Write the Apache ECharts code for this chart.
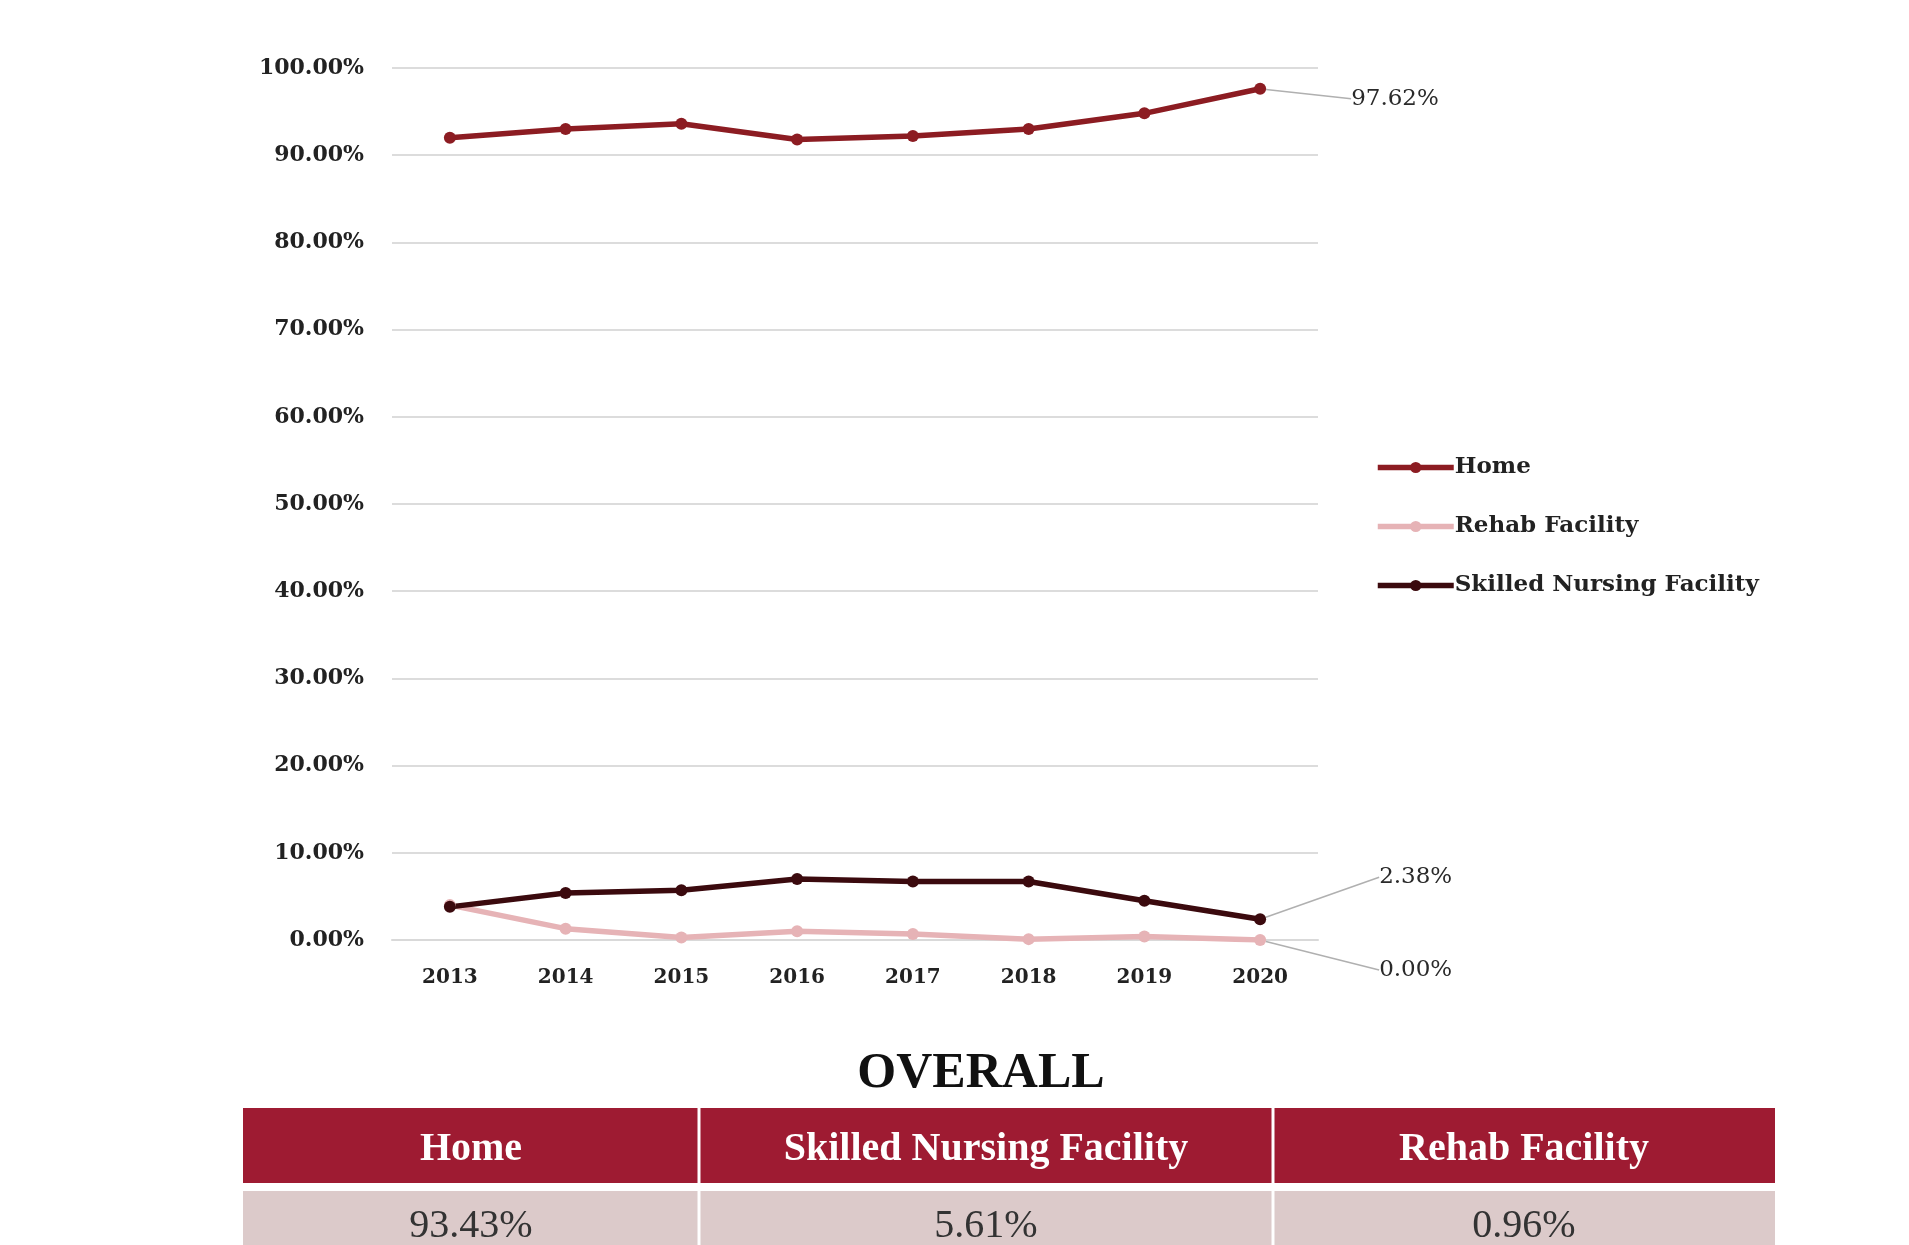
<!DOCTYPE html>
<html>
<head>
<meta charset="utf-8">
<script src="https://cdn.jsdelivr.net/npm/echarts@6/dist/echarts.min.js"></script>
<style>
  html, body { margin: 0; padding: 0; background: #fff; }
  #main { width: 1909px; height: 1245px; }
</style>
</head>
<body>
<div id="main"></div>
<script>
// yearly discharge disposition shares (%)
const years = ['2013', '2014', '2015', '2016', '2017', '2018', '2019', '2020']
const home = [92.0, 93.0, 93.6, 91.8, 92.2, 93.0, 94.8, 97.62]
const rehab = [4.0, 1.3, 0.3, 1.0, 0.7, 0.1, 0.4, 0.0]
const snf = [3.8, 5.4, 5.7, 7.0, 6.7, 6.7, 4.5, 2.38]

// overall table
const tableHeads = ['Home', 'Skilled Nursing Facility', 'Rehab Facility']
const tableValues = ['93.43%', '5.61%', '0.96%']

const serif = '"DejaVu Serif", serif'
const tableFont = '"Liberation Serif", serif'

var chart = echarts.init(document.getElementById('main'))

// label only on the last point, with a guide line
function lastLabel(arr) {
  return arr.map(function (v, i) {
    if (i !== arr.length - 1) return v
    return { value: v, label: { show: true }, labelLine: { show: true } }
  })
}

function makeSeries(name, data, color, dx, dy) {
  return {
    name: name,
    type: 'line',
    data: lastLabel(data),
    symbol: 'circle',
    symbolSize: 12,
    lineStyle: { width: 5.5, color: color },
    itemStyle: { color: color },
    label: {
      show: false,
      position: 'right',
      distance: 5,
      fontFamily: serif,
      fontSize: 23,
      color: '#2a2a2a',
      formatter: function (p) { return p.value.toFixed(2) + '%' }
    },
    labelLine: { show: false, lineStyle: { color: '#b0b0b0', width: 1.5 } },
    labelLayout: function (p) {
      return { dx: dx, dy: dy }
    },
    emphasis: { disabled: true },
    animation: false
  }
}

// table graphics
const colX = [243, 699, 1273, 1775]
var graphics = [
  {
    type: 'text', x: 981, y: 1074,
    style: { text: 'OVERALL', font: 'bold 50px ' + tableFont, fill: '#111', align: 'center', verticalAlign: 'middle' }
  },
  { type: 'rect', shape: { x: colX[0], y: 1108, width: colX[3] - colX[0], height: 75 }, style: { fill: '#9e1b32' } },
  { type: 'rect', shape: { x: colX[0], y: 1191, width: colX[3] - colX[0], height: 60 }, style: { fill: '#dccaca' } }
]
;[1, 2].forEach(function (i) {
  graphics.push({
    type: 'line',
    shape: { x1: colX[i], y1: 1108, x2: colX[i], y2: 1245 },
    style: { stroke: '#fff', lineWidth: 3 }
  })
})
tableHeads.forEach(function (h, i) {
  var cx = (colX[i] + colX[i + 1]) / 2
  graphics.push({
    type: 'text', x: cx, y: 1150,
    style: { text: h, font: 'bold 40px ' + tableFont, fill: '#fff', align: 'center', verticalAlign: 'middle' }
  })
  graphics.push({
    type: 'text', x: cx, y: 1226,
    style: { text: tableValues[i], font: '40px ' + tableFont, fill: '#333', align: 'center', verticalAlign: 'middle' }
  })
})

chart.setOption({
  backgroundColor: '#fff',
  animation: false,
  grid: { left: 392, right: 591, top: 68, bottom: 305 },
  legend: {
    orient: 'vertical',
    left: 1370,
    top: 451,
    itemWidth: 76,
    itemHeight: 14,
    itemGap: 36,
    lineStyle: { width: 5.5 },
    textStyle: { fontFamily: serif, fontWeight: 'bold', fontSize: 23, color: '#222', lineHeight: 21, padding: [0, 0, 0, -4] },
    data: ['Home', 'Rehab Facility', 'Skilled Nursing Facility']
  },
  xAxis: {
    type: 'category',
    data: years,
    axisLine: { lineStyle: { color: '#d9d9d9', width: 2 } },
    axisTick: { show: false },
    axisLabel: { fontFamily: serif, fontWeight: 'bold', fontSize: 20, color: '#222', margin: 28 }
  },
  yAxis: {
    type: 'value',
    min: 0,
    max: 100,
    interval: 10,
    axisLine: { show: false },
    axisTick: { show: false },
    splitLine: { lineStyle: { color: '#dcdcdc', width: 2 } },
    axisLabel: {
      fontFamily: serif, fontWeight: 'bold', fontSize: 22, color: '#222', margin: 28,
      formatter: function (v) { return v.toFixed(2) + '%' }
    }
  },
  series: [
    makeSeries('Home', home, '#8c1c22', 80, 10),
    makeSeries('Rehab Facility', rehab, '#e6b3b6', 108, 30),
    makeSeries('Skilled Nursing Facility', snf, '#3b0a0e', 108, -42)
  ],
  graphic: graphics
})
</script>
</body>
</html>
